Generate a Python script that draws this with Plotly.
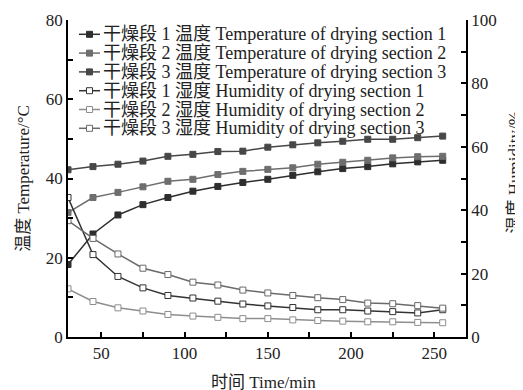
import plotly.graph_objects as go

time_min = [30, 45, 60, 75, 90, 105, 120, 135, 150, 165, 180, 195, 210, 225, 240, 255]

temp_s1 = [18.3, 26.0, 30.8, 33.4, 35.2, 36.8, 38.0, 39.0, 39.8, 40.8, 41.7, 42.5, 43.0, 43.7, 44.2, 44.6]
temp_s2 = [31.4, 35.2, 36.5, 37.9, 39.3, 39.8, 41.0, 41.8, 42.3, 42.7, 43.6, 44.1, 44.6, 45.2, 45.5, 45.6]
temp_s3 = [42.2, 43.0, 43.6, 44.4, 45.6, 46.1, 46.8, 46.9, 47.9, 48.5, 49.0, 49.4, 49.9, 49.9, 50.3, 50.7]

hum_s1 = [44.0, 26.0, 19.1, 15.5, 13.1, 12.3, 11.3, 10.4, 9.8, 9.3, 8.6, 8.6, 8.2, 8.0, 7.6, 8.6]
hum_s2 = [15.2, 11.2, 9.2, 8.2, 7.1, 6.6, 6.2, 5.8, 5.8, 5.4, 5.2, 5.0, 4.8, 4.8, 4.6, 4.5]
hum_s3 = [36.7, 31.1, 26.2, 21.7, 19.7, 17.3, 16.4, 14.8, 13.9, 13.1, 12.4, 11.8, 10.7, 10.5, 9.9, 9.1]

names = [
    "干燥段 1 温度 Temperature of drying section 1",
    "干燥段 2 温度 Temperature of drying section 2",
    "干燥段 3 温度 Temperature of drying section 3",
    "干燥段 1 湿度 Humidity of drying section 1",
    "干燥段 2 湿度 Humidity of drying section 2",
    "干燥段 3 湿度 Humidity of drying section 3",
]
series = [temp_s1, temp_s2, temp_s3, hum_s1, hum_s2, hum_s3]
axes = ["y", "y", "y", "y2", "y2", "y2"]
colors = ["#2e2e2e", "#6e6e6e", "#474747", "#333333", "#8e8e8e", "#6a6a6a"]
filled = [True, True, True, False, False, False]

x_ticks = [50, 100, 150, 200, 250]
x_title = "时间 Time/min"
y_title = "温度 Temperature/°C"
y2_title = "湿度 Humidity/%"
FONT = "Liberation Serif, 'Noto Sans CJK SC', serif"

fig = go.Figure()
for name, ys, ax, c, f in zip(names, series, axes, colors, filled):
    fig.add_trace(go.Scatter(
        x=time_min, y=ys, name=name, yaxis=ax, mode="lines+markers",
        line=dict(color=c, width=1.5),
        marker=dict(symbol="square", size=6,
                    color=c if f else "white",
                    line=dict(color=c, width=1)),
        showlegend=False,
    ))

# custom compact legend (text + sample)
row0 = 14.3
row_gap = 18.8
for i, (name, c, f) in enumerate(zip(names, colors, filled)):
    yoff = -(row0 + row_gap * i)
    fig.add_annotation(
        xref="paper", yref="paper", x=0.086, y=1, yshift=yoff,
        xanchor="left", yanchor="middle", showarrow=False,
        text=name, font=dict(family=FONT, size=18, color="#222"),
        borderpad=0,
    )
    fig.add_shape(type="line", xref="paper", yref="paper",
                  xsizemode="pixel", ysizemode="pixel",
                  xanchor=0.0, yanchor=1, x0=11, x1=32, y0=yoff, y1=yoff,
                  line=dict(color=c, width=1.5))
    fig.add_shape(type="rect", xref="paper", yref="paper",
                  xsizemode="pixel", ysizemode="pixel",
                  xanchor=0.0, yanchor=1, x0=18.5, x1=24.5, y0=yoff - 3, y1=yoff + 3,
                  fillcolor=c if f else "white", line=dict(color=c, width=1))

# axis titles placed as annotations for exact positioning
fig.add_annotation(xref="paper", yref="paper", x=0.5, y=0, xshift=-4, yshift=-45,
                   xanchor="center", yanchor="middle", showarrow=False,
                   text=x_title, font=dict(family=FONT, size=17, color="#222"))
fig.add_annotation(xref="paper", yref="paper", x=1, y=0.5, xshift=48, yshift=6,
                   xanchor="center", yanchor="middle", showarrow=False, textangle=-90,
                   text=y2_title, font=dict(family=FONT, size=17, color="#222"))

axis_common = dict(
    automargin=False,
    showline=True, linecolor="black", linewidth=1.5,
    ticks="inside", ticklen=5, tickwidth=1.5, tickcolor="black",
    showgrid=False, zeroline=False,
    tickfont=dict(family=FONT, size=17, color="#222"),
)

# the page body adds an 8px offset, so the figure is 8px smaller and margins shifted
fig.update_layout(
    template="none",
    width=515, height=382,
    margin=dict(l=60, r=57, t=12, b=53),
    paper_bgcolor="white", plot_bgcolor="white",
    font=dict(family=FONT, size=17, color="#222"),
    xaxis=dict(range=[30, 269], tickvals=x_ticks,
               minor=dict(tickvals=[75, 125, 175, 225], ticks="inside", ticklen=5, tickwidth=1.5, tickcolor="black"),
               **axis_common),
    yaxis=dict(range=[0, 80], dtick=20,
               minor=dict(dtick=10, ticks="inside", ticklen=5, tickwidth=1.5, tickcolor="black"),
               title=dict(text=y_title, font=dict(family=FONT, size=17), standoff=12),
               **axis_common),
    yaxis2=dict(range=[0, 100], dtick=20, overlaying="y", side="right",
                minor=dict(dtick=10, ticks="inside", ticklen=5, tickwidth=1.5, tickcolor="black"),
                **axis_common),
)

fig.write_html("out.html")
